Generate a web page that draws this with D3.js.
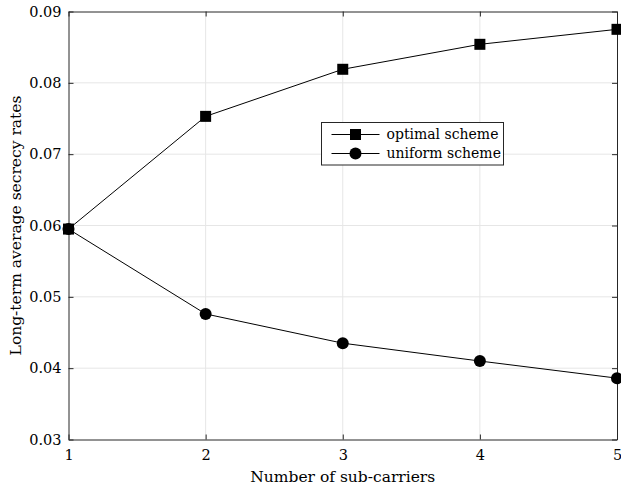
<!DOCTYPE html>
<html>
<head>
<meta charset="utf-8">
<script src="https://cdn.jsdelivr.net/npm/d3@7"></script>
<style>
  body { margin: 0; background: #fff; }
  svg text { font-family: 'DejaVu Serif', serif; }
</style>
</head>
<body>
<div id="chart"></div>
<script>
// Number of sub-carriers
const carriers = [1, 2, 3, 4, 5];
const optimalScheme = [0.0595, 0.0753, 0.0819, 0.0854, 0.0875];
const uniformScheme = [0.0595, 0.0476, 0.0435, 0.0410, 0.0386];
const yTicks = [0.03, 0.04, 0.05, 0.06, 0.07, 0.08, 0.09];

const width = 621, height = 489;
const margin = {top: 11.5, right: 4, bottom: 49.5, left: 68.5};
const serif = "'DejaVu Serif', serif";

const svg = d3.select("#chart").append("svg")
    .attr("width", width)
    .attr("height", height)
    .attr("font-family", serif);

const x = d3.scaleLinear().domain([1, 5]).range([margin.left, width - margin.right]);
const y = d3.scaleLinear().domain([0.03, 0.09]).range([height - margin.bottom, margin.top]);

// grid
const grid = svg.append("g").attr("stroke", "#e6e6e6").attr("stroke-width", 1);
grid.selectAll(".gx").data(carriers.slice(1, -1)).join("line")
    .attr("x1", d => x(d)).attr("x2", d => x(d))
    .attr("y1", y(0.03)).attr("y2", y(0.09));
grid.selectAll(".gy").data(yTicks.slice(1, -1)).join("line")
    .attr("y1", d => y(d)).attr("y2", d => y(d))
    .attr("x1", x(1)).attr("x2", x(5));

// axes (ticks inward)
const axisColor = "#262626";
const xAxis = svg.append("g")
    .attr("transform", `translate(0,${y(0.03)})`)
    .call(d3.axisBottom(x).tickValues(carriers).tickFormat(d3.format("d")).tickSizeInner(-5).tickSizeOuter(0).tickPadding(10));
const xAxisTop = svg.append("g")
    .attr("transform", `translate(0,${y(0.09)})`)
    .call(d3.axisTop(x).tickValues(carriers).tickFormat("").tickSizeInner(-5).tickSizeOuter(0));
const yAxis = svg.append("g")
    .attr("transform", `translate(${x(1)},0)`)
    .call(d3.axisLeft(y).tickValues(yTicks).tickFormat(d3.format(".2f")).tickSizeInner(-5).tickSizeOuter(0).tickPadding(7));
const yAxisRight = svg.append("g")
    .attr("transform", `translate(${x(5)},0)`)
    .call(d3.axisRight(y).tickValues(yTicks).tickFormat("").tickSizeInner(-5).tickSizeOuter(0));

[xAxis, xAxisTop, yAxis, yAxisRight].forEach(g => {
    g.attr("font-family", serif).attr("font-size", 14.5);
    g.select(".domain").attr("stroke", axisColor);
    g.selectAll(".tick line").attr("stroke", axisColor);
    g.selectAll("text").attr("fill", "#000");
});

// axis labels
svg.append("text")
    .attr("x", (x(1) + x(5)) / 2)
    .attr("y", 482)
    .attr("text-anchor", "middle")
    .attr("font-size", 15.5)
    .text("Number of sub-carriers");

svg.append("text")
    .attr("transform", `translate(21,${(y(0.03) + y(0.09)) / 2}) rotate(-90)`)
    .attr("text-anchor", "middle")
    .attr("font-size", 15.5)
    .text("Long-term average secrecy rates");

// series
const line = d3.line().x((d, i) => x(carriers[i])).y(d => y(d));

svg.append("path").datum(optimalScheme)
    .attr("fill", "none").attr("stroke", "#000").attr("stroke-width", 1)
    .attr("d", line);
svg.append("path").datum(uniformScheme)
    .attr("fill", "none").attr("stroke", "#000").attr("stroke-width", 1)
    .attr("d", line);

const sq = 11;
svg.append("g").selectAll("rect").data(optimalScheme).join("rect")
    .attr("x", (d, i) => x(carriers[i]) - sq / 2)
    .attr("y", d => y(d) - sq / 2)
    .attr("width", sq).attr("height", sq)
    .attr("fill", "#000");

svg.append("g").selectAll("circle").data(uniformScheme).join("circle")
    .attr("cx", (d, i) => x(carriers[i]))
    .attr("cy", d => y(d))
    .attr("r", 6)
    .attr("fill", "#000");

// legend
const legend = svg.append("g").attr("transform", "translate(321.5,122.5)");
legend.append("rect")
    .attr("width", 182).attr("height", 42.5)
    .attr("fill", "#fff").attr("stroke", axisColor).attr("stroke-width", 1);

const legendItems = [
    {name: "optimal scheme", marker: "square"},
    {name: "uniform scheme", marker: "circle"}
];
const li = legend.selectAll(".li").data(legendItems).join("g")
    .attr("transform", (d, i) => `translate(0,${12 + i * 19})`);
li.append("line")
    .attr("x1", 10).attr("x2", 58)
    .attr("stroke", "#000").attr("stroke-width", 1);
li.filter(d => d.marker === "square").append("rect")
    .attr("x", 34 - sq / 2).attr("y", -sq / 2)
    .attr("width", sq).attr("height", sq).attr("fill", "#000");
li.filter(d => d.marker === "circle").append("circle")
    .attr("cx", 34).attr("r", 6).attr("fill", "#000");
li.append("text")
    .attr("x", 65).attr("dy", "0.32em")
    .attr("font-size", 14)
    .text(d => d.name);
</script>
</body>
</html>
